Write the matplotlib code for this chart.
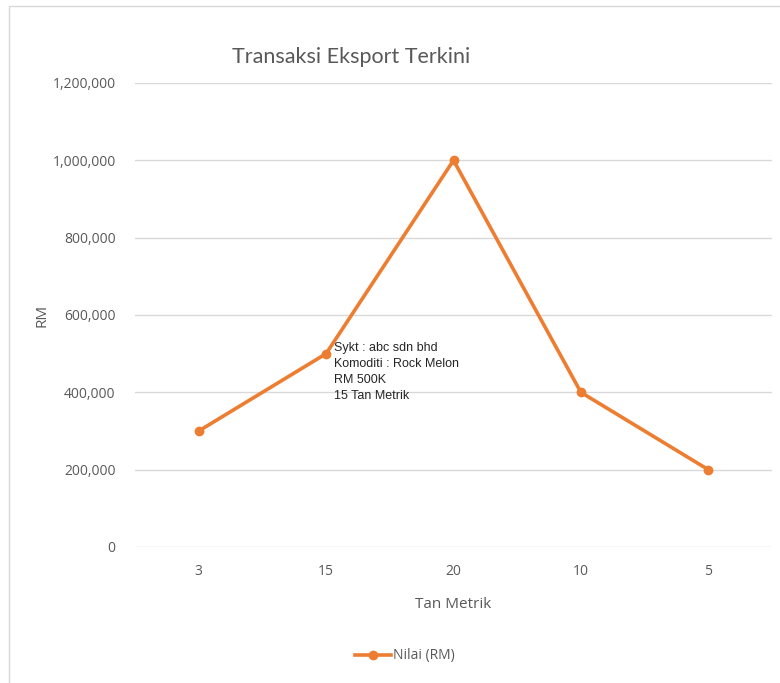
import matplotlib
matplotlib.use("Agg")
import matplotlib.pyplot as plt
from matplotlib.ticker import FuncFormatter
from matplotlib.lines import Line2D
from matplotlib.patches import Rectangle

categories = ["3", "15", "20", "10", "5"]
values = [300000, 500000, 1000000, 400000, 200000]
note_lines = ["Sykt : abc sdn bhd", "Komoditi : Rock Melon", "RM 500K", "15 Tan Metrik"]

orange = "#ED7D31"
grey = "#595959"

plt.rcParams["font.family"] = ["Open Sans", "DejaVu Sans"]

fig = plt.figure(figsize=(7.8, 6.83), dpi=100)
ax = fig.add_axes([135 / 780, 1 - 547 / 683, 637 / 780, 464 / 683])

x = list(range(len(categories)))
ax.plot(x, values, color=orange, lw=2.6, marker="o", ms=6, solid_capstyle="round", zorder=3)

ax.set_xlim(-0.5, len(categories) - 0.5)
ax.set_ylim(0, 1200000)
ax.set_yticks(range(0, 1200001, 200000))
ax.yaxis.set_major_formatter(FuncFormatter(lambda v, p: f"{int(v):,}"))
ax.set_xticks(x)
ax.set_xticklabels(categories)
ax.grid(axis="y", color="#d9d9d9", lw=1)
ax.set_axisbelow(True)
for s in ax.spines.values():
    s.set_visible(False)
ax.tick_params(length=0, colors=grey, labelsize=10)
ax.tick_params(axis="y", pad=14)
ax.tick_params(axis="x", pad=12)

ax.set_xlabel("Tan Metrik", color=grey, fontsize=11, labelpad=13)
ax.set_ylabel("RM", color=grey, fontsize=11, labelpad=2)

fig.text(351 / 780, 1 - 57 / 683, "Transaksi Eksport Terkini", ha="center", va="center",
         fontsize=15.5, color=grey, family="Lato")

# annotation next to point "15"
ax.text(1.06, 530000, "\n".join(note_lines), family="Liberation Sans",
        fontsize=9, color="#262626", va="top", ha="left", linespacing=1.45)

# legend
handle = Line2D([], [], color=orange, lw=2.6, marker="o", ms=6)
fig.legend([handle], ["Nilai (RM)"], loc="center", bbox_to_anchor=(405 / 780, 1 - 656 / 683),
           frameon=False, fontsize=10, labelcolor=grey, handlelength=2.6, handletextpad=0.1)

# chart border
fig.patches.append(Rectangle((9 / 780, -0.01), 1.0, 1 - 6 / 683 + 0.01, transform=fig.transFigure,
                             fill=False, edgecolor="#d9d9d9", lw=1))

fig.savefig("out.png", dpi=100)
